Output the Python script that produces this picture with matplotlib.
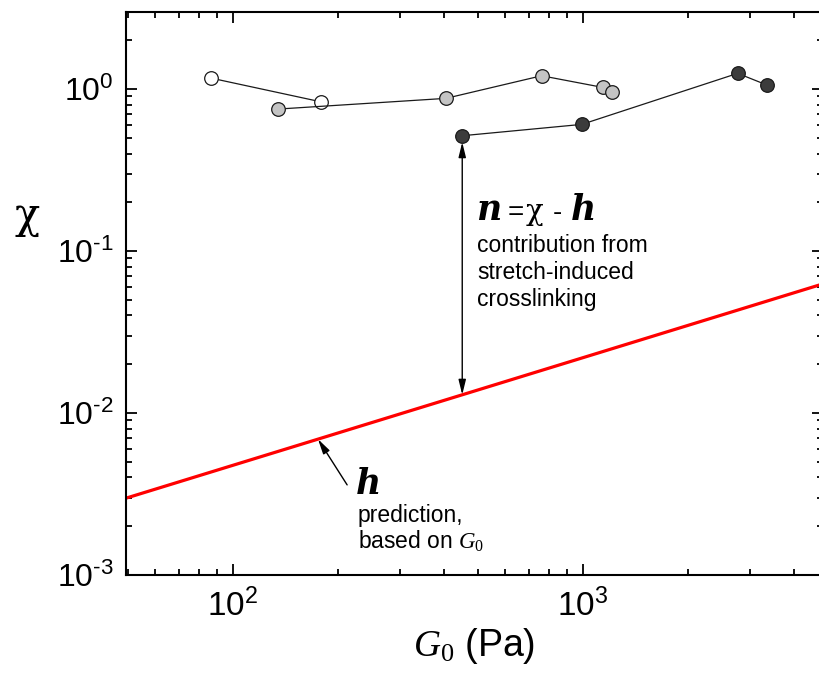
import numpy as np
import matplotlib
matplotlib.use("Agg")
import matplotlib.pyplot as plt
from matplotlib.ticker import LogLocator, NullFormatter, FuncFormatter

# ---- data ----
white_G = [86.5, 178]
white_chi = [1.169, 0.835]

gray_G = [134.2, 406, 762, 1138, 1213]
gray_chi = [0.752, 0.876, 1.208, 1.024, 0.962]

dark_G = [452, 992, 2767, 3357]
dark_chi = [0.515, 0.605, 1.250, 1.058]

h_G = [10, 10000]
h_chi = [0.00103, 0.1014]

x_lim = (49.5, 4850)
y_lim = (1e-3, 2.99)

plt.rcParams['font.family'] = ['Liberation Sans', 'DejaVu Sans']
plt.rcParams['mathtext.fontset'] = 'custom'
plt.rcParams['mathtext.rm'] = 'Liberation Sans'
plt.rcParams['mathtext.it'] = 'Liberation Serif:italic'
plt.rcParams['mathtext.tt'] = 'Liberation Serif'
plt.rcParams['axes.unicode_minus'] = False

fig = plt.figure(figsize=(8.19, 6.88), dpi=100)
ax = fig.add_axes([126/819, 1-575/688, (823-126)/819, (575-12)/688])
ax.set_xscale('log')
ax.set_yscale('log')
ax.set_xlim(*x_lim)
ax.set_ylim(*y_lim)

ax.plot(h_G, h_chi, color='#ff0000', lw=2.3, zorder=2)

mk = dict(marker='o', markersize=9.8, markeredgecolor='#1a1a1a', markeredgewidth=0.9,
          color='#1a1a1a', lw=0.9, zorder=3)
ax.plot(white_G, white_chi, markerfacecolor='white', **mk)
ax.plot(gray_G, gray_chi, markerfacecolor='#c4c4c4', **mk)
ax.plot(dark_G, dark_chi, markerfacecolor='#3c3c3c', **mk)

def h_line(G):
    lg = np.log10(h_G); lc = np.log10(h_chi)
    return 10 ** np.interp(np.log10(G), lg, lc)

# double arrow between data point and h line
gx = dark_G[0]
ax.annotate('', xy=(gx, h_line(gx)), xytext=(gx, 0.47),
            arrowprops=dict(arrowstyle='<|-|>,head_length=0.9,head_width=0.22',
                            color='black', lw=1.0, shrinkA=0, shrinkB=0))

# arrow to h line
ax.annotate('', xy=(175, h_line(175)), xytext=(212, 0.0036),
            arrowprops=dict(arrowstyle='-|>,head_length=0.9,head_width=0.22',
                            color='black', lw=1.0, shrinkA=0, shrinkB=0))

def put(px, py, s, **kw):
    fig.text(px/819, 1-py/688, s, **kw)

chi_font = ['DejaVu Serif']

# text: n = chi - h
bi = dict(family='DejaVu Serif', style='italic', weight='bold', fontsize=25)
ty = 220
put(476, ty, 'n', **bi)
put(508, ty, '=', fontsize=20)
put(526, ty, 'χ', fontsize=21, family=chi_font)
put(553, ty, '-', fontsize=20)
put(571, ty, 'h', **bi)
put(477, 252, 'contribution from', fontsize=16.5)
put(477, 279, 'stretch-induced', fontsize=16.5)
put(477, 306, 'crosslinking', fontsize=16.5)

put(356, 494, 'h', **bi)
put(358, 522, 'prediction,', fontsize=16.5)
put(358, 549, r'based on $\mathit{G}_{\mathtt{0}}$', fontsize=16.5)

# y label (upright chi)
put(14, 228, 'χ', fontsize=30, family=chi_font)

# ticks
def decade_fmt(v, pos):
    e = int(round(np.log10(v)))
    s = str(e).replace('-', '\u2010')
    return r'$\mathdefault{10^{%s}}$' % s

ax.xaxis.set_major_locator(LogLocator(base=10, numticks=10))
ax.yaxis.set_major_locator(LogLocator(base=10, numticks=10))
ax.xaxis.set_major_formatter(FuncFormatter(decade_fmt))
ax.yaxis.set_major_formatter(FuncFormatter(decade_fmt))
ax.xaxis.set_minor_locator(LogLocator(base=10, subs=np.arange(2, 10), numticks=20))
ax.yaxis.set_minor_locator(LogLocator(base=10, subs=np.arange(2, 10), numticks=20))
ax.xaxis.set_minor_formatter(NullFormatter())
ax.yaxis.set_minor_formatter(NullFormatter())
ax.tick_params(which='both', direction='in', top=True, right=True, width=1.3)
ax.tick_params(which='major', length=8)
ax.tick_params(axis='x', which='major', labelsize=24, pad=10)
ax.tick_params(axis='y', which='major', labelsize=23, pad=9)
ax.tick_params(which='minor', length=4.5)
for s in ax.spines.values():
    s.set_linewidth(1.5)

ax.set_xlabel(r'$\mathit{G}_{\mathtt{0}}$ (Pa)', fontsize=27, labelpad=2)

fig.savefig('out.png', dpi=100)
